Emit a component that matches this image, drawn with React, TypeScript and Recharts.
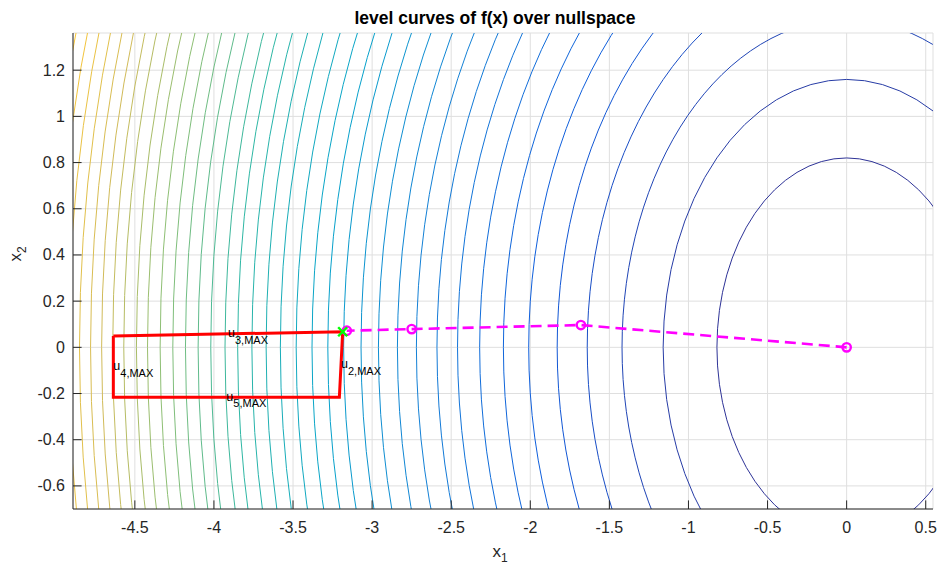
import React from 'react';
import {
  ComposedChart,
  XAxis,
  YAxis,
  CartesianGrid,
  Line,
  Scatter,
  ReferenceArea,
  ReferenceDot,
} from 'recharts';

// radius of each level curve of f, read where the curve crosses x2 = 0 (curves are centred on the origin)
const levelRadii = [
  0.82, 1.16, 1.42, 1.64, 1.83, 2.01, 2.17, 2.32, 2.46, 2.59,
  2.72, 2.84, 2.96, 3.07, 3.18, 3.28, 3.38, 3.48, 3.58, 3.67,
  3.76, 3.85, 3.93, 4.02, 4.10, 4.18, 4.26, 4.34, 4.42, 4.49,
  4.57, 4.64, 4.71, 4.78, 4.85, 4.92, 4.99, 5.06,
];

// iterates (dashed magenta path)
const iterX1 = [0, -1.68, -2.75, -3.16];
const iterX2 = [0, 0.0965, 0.079, 0.072];

// feasible box (closed, red)
const boxX1 = [-4.636, -3.186, -3.207, -4.636, -4.636];
const boxX2 = [0.049, 0.0675, -0.2165, -0.2165, 0.049];

// edge labels, one per box edge in vertex order
const edgeSubs = ['3,MAX', '2,MAX', '5,MAX', '4,MAX'];

// optimum marker
const optX1 = [-3.186];
const optX2 = [0.0675];

const xTicks = [-4.5, -4, -3.5, -3, -2.5, -2, -1.5, -1, -0.5, 0, 0.5];
const yTicks = [-0.6, -0.4, -0.2, 0, 0.2, 0.4, 0.6, 0.8, 1, 1.2];

const X_DOMAIN: [number, number] = [-4.891, 0.546];
const Y_DOMAIN: [number, number] = [-0.7, 1.361];

const FONT = '"Liberation Sans", Arial, Helvetica, sans-serif';
const AXIS_COLOR = '#262626';

const PARULA = ['#352a87', '#0f5cdd', '#1481d6', '#06a4ca', '#2eb7a4', '#87bf77', '#d1bb59', '#fec832', '#f9fb0e'];

function hexToRgb(h: string) {
  const n = parseInt(h.slice(1), 16);
  return [(n >> 16) & 255, (n >> 8) & 255, n & 255];
}

function parula(t: number) {
  const s = Math.max(0, Math.min(1, t)) * (PARULA.length - 1);
  const i = Math.min(Math.floor(s), PARULA.length - 2);
  const f = s - i;
  const a = hexToRgb(PARULA[i]);
  const b = hexToRgb(PARULA[i + 1]);
  const c = a.map((v, j) => Math.round(v + (b[j] - v) * f));
  return `rgb(${c[0]},${c[1]},${c[2]})`;
}

const iterData = iterX1.map((x, i) => ({ x, y: iterX2[i] }));
const boxData = boxX1.map((x, i) => ({ x, y: boxX2[i] }));
const optData = optX1.map((x, i) => ({ x, y: optX2[i] }));
const edgeLabels = edgeSubs.map((sub, i) => ({
  sub,
  x: (boxX1[i] + boxX1[i + 1]) / 2,
  y: (boxX2[i] + boxX2[i + 1]) / 2,
}));

// circle in data units -> ellipse in pixels, inscribed in the area's rectangle
const LevelCurve = (props: any) => {
  const { x, y, width, height, clipPath, stroke } = props;
  if (x == null || y == null) return null;
  return (
    <ellipse
      cx={x + width / 2}
      cy={y + height / 2}
      rx={Math.abs(width) / 2}
      ry={Math.abs(height) / 2}
      fill="none"
      stroke={stroke}
      strokeWidth={1}
      clipPath={clipPath}
    />
  );
};

// ticks point inwards, labels sit outside
const XTick = (props: any) => {
  const { x, y, payload } = props;
  return (
    <g>
      <line x1={x} x2={x} y1={y} y2={y - 8.6} stroke={AXIS_COLOR} />
      <text x={x} y={y + 18.5} textAnchor="middle" dominantBaseline="central" fontSize={16} fontFamily={FONT} fill={AXIS_COLOR}>
        {payload.value}
      </text>
    </g>
  );
};

const YTick = (props: any) => {
  const { x, y, payload } = props;
  return (
    <g>
      <line x1={x} x2={x + 8.6} y1={y} y2={y} stroke={AXIS_COLOR} />
      <text x={x - 8} y={y} textAnchor="end" dominantBaseline="central" fontSize={16} fontFamily={FONT} fill={AXIS_COLOR}>
        {payload.value}
      </text>
    </g>
  );
};

const IterDot = (props: any) => {
  const { cx, cy, index } = props;
  return <circle key={`it-${index}`} cx={cx} cy={cy} r={4.2} fill="none" stroke="#ff00ff" strokeWidth={2.4} />;
};

const CrossMark = (props: any) => {
  const { cx, cy } = props;
  const h = 4.5;
  return (
    <g stroke="#00ff00" strokeWidth={2.4}>
      <line x1={cx - h} y1={cy - h} x2={cx + h} y2={cy + h} />
      <line x1={cx - h} y1={cy + h} x2={cx + h} y2={cy - h} />
    </g>
  );
};

const EdgeLabel = (sub: string) => (props: any) => {
  const { cx, cy } = props;
  return (
    <text x={cx} y={cy + 3.5} fontFamily={FONT} fontSize={12.5} fill="#000">
      <tspan>u</tspan>
      <tspan dy={6.5} fontSize={11}>{sub}</tspan>
    </text>
  );
};

export default function App() {
  return (
    <div style={{ position: 'absolute', left: 0, top: 0, width: 938, height: 564, background: '#fff' }}>
      <ComposedChart width={938} height={564} margin={{ top: 33, right: 5, bottom: 0, left: 0 }}>
        <CartesianGrid stroke="#dfdfdf" strokeWidth={1} />
        <XAxis
          type="number"
          dataKey="x"
          domain={X_DOMAIN}
          allowDataOverflow
          ticks={xTicks}
          interval={0}
          height={55}
          tickSize={0}
          tickMargin={0}
          tickLine={false}
          tick={<XTick />}
          axisLine={{ stroke: AXIS_COLOR }}
        />
        <YAxis
          type="number"
          dataKey="y"
          domain={Y_DOMAIN}
          allowDataOverflow
          ticks={yTicks}
          interval={0}
          width={73}
          tickSize={0}
          tickMargin={0}
          tickLine={false}
          tick={<YTick />}
          axisLine={{ stroke: AXIS_COLOR }}
        />
        {levelRadii.map((r, k) => (
          <ReferenceArea
            key={`lvl-${k}`}
            x1={-r}
            x2={r}
            y1={-r}
            y2={r}
            ifOverflow="hidden"
            stroke={parula((k + 1) / 44)}
            fill="none"
            shape={LevelCurve}
          />
        ))}
        <Line
          data={boxData}
          dataKey="y"
          type="linear"
          stroke="#ff0000"
          strokeWidth={3}
          dot={false}
          activeDot={false}
          isAnimationActive={false}
        />
        <Line
          data={iterData}
          dataKey="y"
          type="linear"
          stroke="#ff00ff"
          strokeWidth={2.6}
          strokeDasharray="11 6"
          dot={IterDot}
          activeDot={false}
          isAnimationActive={false}
        />
        <Scatter data={optData} dataKey="y" shape={CrossMark} isAnimationActive={false} />
        {edgeLabels.map((l) => (
          <ReferenceDot key={l.sub} x={l.x} y={l.y} r={0} ifOverflow="visible" shape={EdgeLabel(l.sub)} />
        ))}
      </ComposedChart>
      <svg width={938} height={564} style={{ position: 'absolute', left: 0, top: 0, pointerEvents: 'none' }}>
        <text x={495} y={24} textAnchor="middle" fontFamily={FONT} fontSize={17.5} fontWeight="bold" fill="#000">
          level curves of f(x) over nullspace
        </text>
        <text x={500} y={557} textAnchor="middle" fontFamily={FONT} fontSize={17} fill={AXIS_COLOR}>
          <tspan>x</tspan>
          <tspan dy={5} fontSize={12}>1</tspan>
        </text>
        <text transform="translate(20.7, 254) rotate(-90)" textAnchor="middle" fontFamily={FONT} fontSize={17} fill={AXIS_COLOR}>
          <tspan>x</tspan>
          <tspan dy={5} fontSize={12}>2</tspan>
        </text>
      </svg>
    </div>
  );
}
